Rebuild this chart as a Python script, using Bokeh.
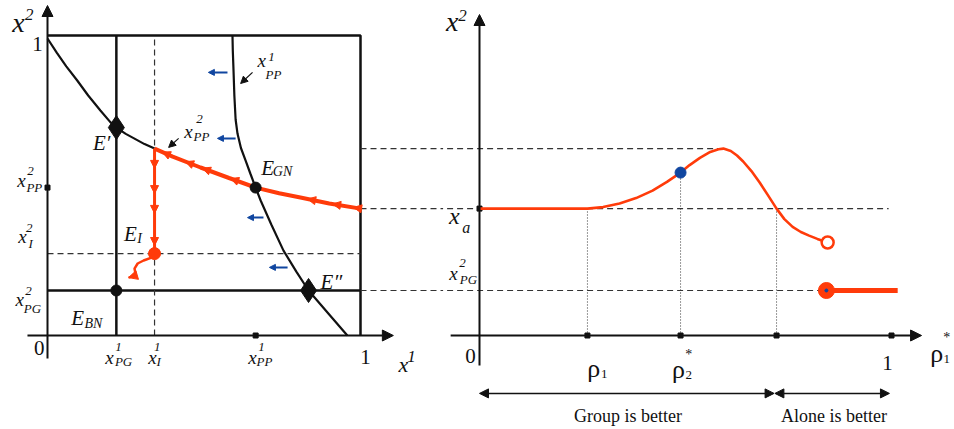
import numpy as np
from bokeh.plotting import figure
from bokeh.layouts import row
from bokeh.models import Range1d, Arrow, NormalHead, ColumnDataSource
from bokeh.core.properties import value
from bokeh.embed import file_html
from bokeh.resources import INLINE

RED = "#ff3b0a"
BLUE = "#1046a0"
INK = "#111111"
GREY = "#333333"
SERIF = value("Liberation Serif")

# ---------------- left panel: strategy space (x1, x2) ----------------
x1_pg, x1_i, x1_pp = 0.22, 0.342, 0.665
x2_pg, x2_i, x2_pp = 0.15, 0.273, 0.493
x2_top = 0.623          # kink of player 2's reaction curve / peak level
x_a = 0.423             # level reached at x1 = 1

# player 2 reaction curve, black (unstable) part
br2_black_x = [0.0, 0.03, 0.06, 0.095, 0.13, 0.169, 0.2, 0.22, 0.25, 0.275, 0.31, 0.342]
br2_black_y = [0.99, 0.942, 0.897, 0.85, 0.80, 0.75, 0.712, 0.693, 0.672, 0.658, 0.638, 0.623]
# player 2 reaction curve, red (path) part
br2_red_x = [0.342, 0.40, 0.489, 0.58, 0.665, 0.74, 0.808, 0.90, 1.0]
br2_red_y = [0.623, 0.596, 0.56, 0.525, 0.493, 0.474, 0.46, 0.44, 0.423]
# player 1 reaction curve
br1_x = [0.591, 0.592, 0.594, 0.597, 0.601, 0.607, 0.618, 0.633, 0.648, 0.665,
         0.681, 0.715, 0.754, 0.795, 0.834, 0.9, 0.958]
br1_y = [1.0, 0.95, 0.893, 0.8, 0.72, 0.673, 0.625, 0.583, 0.54, 0.493,
         0.45, 0.37, 0.283, 0.213, 0.15, 0.07, 0.0]
# adjustment path after reaching E_I
adj_x = [0.342, 0.339, 0.307, 0.288, 0.278, 0.281, 0.272, 0.259]
adj_y = [0.273, 0.262, 0.25, 0.24, 0.223, 0.207, 0.197, 0.193]
# direction-of-motion arrows
flow_x0 = [0.575, 0.601, 0.690, 0.767]
flow_x1 = [0.514, 0.543, 0.639, 0.709]
flow_y = [0.877, 0.657, 0.393, 0.227]
# arrowheads along the red path
path_arrow_x = [0.367, 0.441, 0.495, 0.585, 0.831, 0.911, 0.978]
drop_arrow_y = [0.557, 0.473, 0.407, 0.30]

# ---------------- right panel: x2 against rho1* ----------------
rho_1, rho_2, rho_c = 0.262, 0.488, 0.721
rho_peak = 0.592
curve_rho = [0.0, 0.262, 0.30, 0.34, 0.38, 0.42, 0.455, 0.488, 0.51, 0.535, 0.56,
             0.58, 0.592, 0.61, 0.625, 0.64, 0.66, 0.68, 0.70, 0.721, 0.74, 0.76,
             0.78, 0.80, 0.82, 0.845]
curve_x2 = [0.423, 0.423, 0.428, 0.44, 0.458, 0.483, 0.512, 0.543, 0.568, 0.592, 0.612,
            0.621, 0.623, 0.615, 0.6, 0.58, 0.548, 0.51, 0.468, 0.423, 0.388, 0.362,
            0.345, 0.333, 0.322, 0.31]
blue_x2 = 0.543
jump_rho = [0.842, 1.015]
jump_x2 = [0.15, 0.15]
group_span = [0.0, rho_c]
alone_span = [rho_c, 1.0]

Y_RANGE = (-94 / 300, 335 / 300)


def panel(width, xr):
    p = figure(width=width, height=429, x_range=Range1d(*xr), y_range=Range1d(*Y_RANGE),
               x_axis_type=None, y_axis_type=None, output_backend="svg",
               toolbar_location=None, min_border=0, outline_line_color=None)
    p.grid.visible = False
    p.background_fill_color = "white"
    p.border_fill_color = "white"
    return p


def txt(p, x, y, s, size, italic=True, align="center", color=INK):
    p.text(x=[x], y=[y], text=[s], text_font=SERIF, text_font_size=f"{size}px",
           text_font_style="italic" if italic else "normal", text_align=align,
           text_baseline="middle", text_color=color)


def arrows(p, x0, y0, x1, y1, color, size, lw, both=False):
    src = ColumnDataSource(dict(x0=list(x0), y0=list(y0), x1=list(x1), y1=list(y1)))
    head = dict(size=size, fill_color=color, line_color=color, line_width=1)
    p.add_layout(Arrow(end=NormalHead(**head),
                       start=NormalHead(**head) if both else None,
                       x_start="x0", y_start="y0", x_end="x1", y_end="y1",
                       source=src, line_color=color, line_width=lw))


# =============== left figure ===============
L = panel(440, (-47 / 313, (440 - 47) / 313))

# axes
arrows(L, [0, -0.064], [-0.077, 0], [0, 1.105], [1.1, 0], INK, 11, 2)
# box
L.line([0, 1, 1], [1, 1, 0], line_color=INK, line_width=2.5)
# threshold lines
L.line([x1_pg, x1_pg], [0, 1], line_color=INK, line_width=2.5)
L.line([0, 1], [x2_pg, x2_pg], line_color=INK, line_width=2.5)
L.line([x1_i, x1_i], [0, 1], line_color=GREY, line_width=1.2, line_dash="6 4")
L.line([0, 1], [x2_i, x2_i], line_color=GREY, line_width=1.2, line_dash="6 4")
for lvl in (x2_top, x_a, x2_pg):
    L.line([1, 1.3], [lvl, lvl], line_color=GREY, line_width=1.2, line_dash="6 4")

# reaction curves
L.line(br2_black_x, br2_black_y, line_color=INK, line_width=2.2)
L.line(br1_x, br1_y, line_color=INK, line_width=2.2)
L.line(br2_red_x, br2_red_y, line_color=RED, line_width=4)
L.line([x1_i, x1_i], [x2_top, x2_i], line_color=RED, line_width=3)
L.line(adj_x, adj_y, line_color=RED, line_width=2.5)

# arrowheads along the red path
pay = np.interp(path_arrow_x, br2_red_x, br2_red_y)
pay0 = np.interp(np.array(path_arrow_x) + 0.012, br2_red_x, br2_red_y)
arrows(L, np.array(path_arrow_x) + 0.012, pay0, path_arrow_x, pay, RED, 8, 1)
arrows(L, [x1_i] * 4, np.array(drop_arrow_y) + 0.012, [x1_i] * 4, drop_arrow_y, RED, 8, 1)
arrows(L, [adj_x[-2]], [adj_y[-2]], [adj_x[-1]], [adj_y[-1]], RED, 9, 1)

# flow arrows
arrows(L, flow_x0, flow_y, flow_x1, flow_y, BLUE, 6, 2)

# pointer arrows to curve labels
arrows(L, [0.655, 0.419], [0.877, 0.657], [0.617, 0.387], [0.84, 0.627], INK, 7, 1.2)

# equilibria
L.scatter([x1_pg, br1_x[14]], [br2_black_y[7], x2_pg], marker="diamond", size=24, color=INK)
L.scatter([x1_pp, x1_pg], [x2_pp, x2_pg], marker="circle", size=11, color=INK)
L.scatter([x1_i], [x2_i], marker="circle", size=12, color=RED)
# ticks
L.scatter([x1_pp, 0], [0, x2_pp], marker="square", size=5, color=INK)

# labels
txt(L, -0.093, 1.043, "x", 28)
txt(L, -0.058, 1.07, "2", 17)
txt(L, -0.032, 0.973, "1", 21, italic=False)
txt(L, -0.026, -0.043, "0", 21, italic=False)
txt(L, 1.016, -0.073, "1", 21, italic=False)
txt(L, 1.137, -0.097, "x", 22)
txt(L, 1.163, -0.07, "1", 17)

for (bx, by, bs, sx, sy, ss, px, py, ps) in [
    (0.198, -0.073, "x", 0.227, -0.037, "1", 0.243, -0.087, "PG"),
    (0.335, -0.073, "x", 0.351, -0.037, "1", 0.355, -0.087, "I"),
    (0.655, -0.073, "x", 0.684, -0.037, "1", 0.693, -0.087, "PP"),
    (-0.083, 0.517, "x", -0.054, 0.547, "2", -0.042, 0.493, "PP"),
    (-0.080, 0.330, "x", -0.058, 0.357, "2", -0.054, 0.307, "I"),
    (-0.089, 0.120, "x", -0.061, 0.147, "2", -0.048, 0.090, "PG"),
    (0.684, 0.917, "x", 0.716, 0.927, "1", 0.722, 0.870, "PP"),
    (0.450, 0.680, "x", 0.486, 0.723, "2", 0.492, 0.663, "PP"),
]:
    txt(L, bx, by, bs, 19)
    txt(L, sx, sy, ss, 13)
    txt(L, px, py, ps, 13)

txt(L, 0.173, 0.643, "E\u2032", 21)
txt(L, 0.907, 0.180, "E\u2033", 21)
txt(L, 0.703, 0.560, "E", 21)
txt(L, 0.751, 0.547, "GN", 14)
txt(L, 0.265, 0.340, "E", 21)
txt(L, 0.294, 0.323, "I", 14)
txt(L, 0.096, 0.060, "E", 21)
txt(L, 0.147, 0.040, "BN", 14)

# =============== right figure ===============
R = panel(514, (-39 / 412, (514 - 39) / 412))

# guide lines
R.line([-0.2, rho_peak], [x2_top, x2_top], line_color=GREY, line_width=1.2, line_dash="6 4")
R.line([-0.2, 0.993], [x_a, x_a], line_color=GREY, line_width=1.2, line_dash="6 4")
R.line([-0.2, jump_rho[0]], [x2_pg, x2_pg], line_color=GREY, line_width=1.2, line_dash="6 4")
R.segment([rho_1, rho_2, rho_c], [0, 0, 0], [rho_1, rho_2, rho_c], [x_a, blue_x2, x_a],
          line_color=GREY, line_width=1, line_dash="1 2")

# axes
arrows(R, [0, -0.07], [-0.1, 0], [0, 1.073], [1.07, 0], INK, 11, 2)
R.scatter([rho_1, rho_2, rho_c, 1.0, 0], [0, 0, 0, 0, x_a], marker="square", size=5, color=INK)

# x2 as a function of rho1*
R.line(curve_rho, curve_x2, line_color=RED, line_width=2.6, line_join="round")
R.line(jump_rho, jump_x2, line_color=RED, line_width=5)
R.scatter([curve_rho[-1]], [curve_x2[-1]], marker="circle", size=12,
          fill_color="white", line_color=RED, line_width=2.5)
R.scatter([jump_rho[0]], [jump_x2[0]], marker="circle", size=16, color=RED)
R.scatter([jump_rho[0]], [jump_x2[0]], marker="circle", size=3, color=BLUE)
R.scatter([rho_2], [blue_x2], marker="circle", size=11, color=BLUE)

# regime arrows
arrows(R, [group_span[0], alone_span[0] - 0.004], [-0.193, -0.193],
       [group_span[1] - 0.006, alone_span[1] - 0.005], [-0.193, -0.193], INK, 9, 1.5, both=True)
txt(R, (group_span[0] + group_span[1]) / 2, -0.267, "Group is better", 18, italic=False)
txt(R, (alone_span[0] + alone_span[1]) / 2, -0.267, "Alone is better", 18, italic=False)

# labels
txt(R, -0.066, 1.047, "x", 28)
txt(R, -0.041, 1.067, "2", 17)
txt(R, -0.061, 0.400, "x", 24)
txt(R, -0.032, 0.360, "a", 16)
txt(R, -0.063, 0.207, "x", 19)
txt(R, -0.041, 0.243, "2", 13)
txt(R, -0.027, 0.187, "PG", 13)
txt(R, -0.022, -0.067, "0", 21, italic=False)
txt(R, 0.990, -0.093, "1", 21, italic=False)
txt(R, 0.277, -0.110, "\u03c1", 26, italic=False)
txt(R, 0.303, -0.128, "1", 13, italic=False)
txt(R, 0.483, -0.113, "\u03c1", 26, italic=False)
txt(R, 0.508, -0.130, "2", 13, italic=False)
txt(R, 0.508, -0.062, "*", 14, italic=False)
txt(R, 1.110, -0.060, "\u03c1", 26, italic=False)
txt(R, 1.134, -0.078, "1", 13, italic=False)
txt(R, 1.134, -0.008, "*", 14, italic=False)

layout = row(L, R)
open("out.html", "w").write(file_html(layout, INLINE))
